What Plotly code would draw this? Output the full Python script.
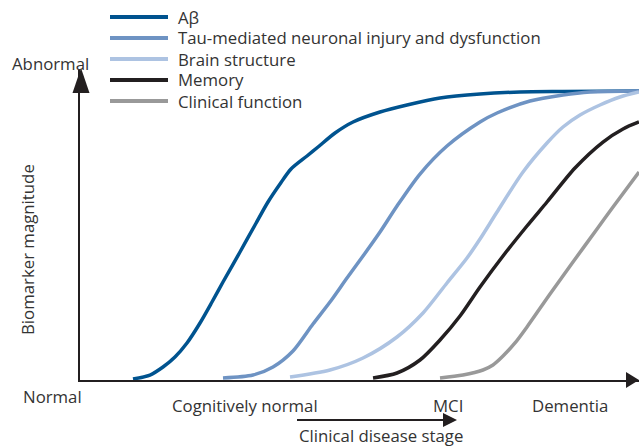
import plotly.graph_objects as go

# ---- data (x: disease progression 0-100, y: biomarker magnitude 0-100) ----
series_names = ["Aβ", "Tau-mediated neuronal injury and dysfunction", "Brain structure",
                "Memory", "Clinical function"]

abeta_x = [9.48, 12.52, 14.85, 16.99, 19.14, 21.47, 23.61, 25.58, 28.62, 31.31, 33.63, 35.78,
           37.75, 40.61, 42.58, 45.62, 48.84, 53.67, 58.50, 64.40, 71.56, 78.71, 86.40, 100]
abeta_y = [0.32, 1.61, 4.19, 7.42, 11.94, 18.39, 25.16, 31.61, 41.29, 50.0, 57.42, 63.23,
           68.06, 72.26, 75.16, 79.68, 83.23, 86.45, 88.71, 90.97, 92.26, 92.90, 93.06, 93.23]

tau_x = [25.58, 30.95, 34.53, 38.10, 41.68, 44.72, 47.76, 50.63, 53.67, 56.71, 60.82, 65.65,
         71.56, 74.60, 80.50, 86.40, 91.23, 100]
tau_y = [0.65, 1.61, 4.19, 9.35, 18.06, 25.16, 32.90, 40.0, 47.74, 56.13, 66.45, 75.48,
         83.23, 86.13, 89.99, 91.94, 92.90, 93.23]

brain_x = [37.57, 44.72, 50.63, 56.71, 61.36, 65.65, 69.23, 71.56, 74.60, 79.25, 83.54, 86.40,
           89.45, 93.02, 96.60, 100]
brain_y = [0.97, 3.23, 7.10, 13.87, 21.61, 31.29, 39.35, 45.48, 54.19, 67.10, 76.45, 81.61,
           85.48, 88.71, 91.29, 92.90]

memory_x = [52.42, 56.71, 60.82, 64.40, 67.98, 71.56, 75.67, 79.96, 83.54, 88.55, 93.56, 97.14, 100]
memory_y = [0.65, 2.26, 6.45, 12.90, 20.65, 30.0, 40.0, 49.68, 57.42, 68.39, 76.77, 80.97, 83.23]

clinical_x = [64.40, 68.52, 72.09, 73.88, 75.67, 77.82, 79.96, 84.08, 88.19, 92.49, 95.35, 100]
clinical_y = [0.65, 1.61, 3.23, 4.84, 7.74, 11.94, 17.10, 27.74, 38.06, 48.71, 55.81, 67.10]

stage_labels = ["Normal", "Cognitively normal", "MCI", "Dementia"]
y_end_label = "Abnormal"
y_title = "Biomarker magnitude"
x_title = "Clinical disease stage"

colors = ["#00538f", "#6e93c3", "#adc3e2", "#231f20", "#999999"]
xs = [abeta_x, tau_x, brain_x, memory_x, clinical_x]
ys = [abeta_y, tau_y, brain_y, memory_y, clinical_y]

W, H = 639, 446
L, R, T, B = 80, 0, 70, 66
PW, PH = W - L - R, H - T - B


def px(xp):
    return (xp - L) / PW


def py(yp):
    return (H - B - yp) / PH


fig = go.Figure()
for name, x, y, c in zip(series_names, xs, ys, colors):
    fig.add_trace(go.Scatter(x=x, y=y, mode="lines", name=name,
                             line=dict(color=c, width=3.5, shape="spline", smoothing=0.8),
                             showlegend=False, hoverinfo="skip"))

FONT = "Open Sans, Liberation Sans, Arial, sans-serif"
FS = 16.8
TXT = "#333333"
AX = "#231f20"

shapes = []
annotations = []

# legend
leg_rows = [17, 38, 59, 80, 101]
for name, c, r in zip(series_names, colors, leg_rows):
    shapes.append(dict(type="line", xref="paper", yref="paper",
                       x0=px(110), x1=px(168), y0=py(r), y1=py(r),
                       line=dict(color=c, width=4)))
    annotations.append(dict(x=px(176), y=py(r), xref="paper", yref="paper", text=name,
                            showarrow=False, xanchor="left", yanchor="middle",
                            font=dict(family=FONT, size=FS, color=TXT)))

# axis arrowheads
shapes.append(dict(type="path", xref="paper", yref="paper",
                   path=f"M {px(639)} {py(380)} L {px(626)} {py(372)} L {px(626)} {py(388)} Z",
                   fillcolor=AX, line=dict(color=AX, width=0)))
shapes.append(dict(type="path", xref="paper", yref="paper",
                   path=f"M {px(81)} {py(68)} L {px(72.5)} {py(93)} L {px(89.5)} {py(93)} Z",
                   fillcolor=AX, line=dict(color=AX, width=0)))

# clinical disease stage arrow
shapes.append(dict(type="line", xref="paper", yref="paper",
                   x0=px(297), x1=px(445), y0=py(420), y1=py(420),
                   line=dict(color=AX, width=2)))
shapes.append(dict(type="path", xref="paper", yref="paper",
                   path=f"M {px(457)} {py(420)} L {px(443)} {py(413)} L {px(443)} {py(427)} Z",
                   fillcolor=AX, line=dict(color=AX, width=0)))

# texts
for t, (x0, y0) in zip(stage_labels, [(52, 396), (245, 405), (448, 405), (570, 405)]):
    annotations.append(dict(x=px(x0), y=py(y0), xref="paper", yref="paper", text=t,
                            showarrow=False, xanchor="center", yanchor="middle",
                            font=dict(family=FONT, size=FS, color=TXT)))
annotations.append(dict(x=px(381), y=py(435), xref="paper", yref="paper", text=x_title,
                        showarrow=False, xanchor="center", yanchor="middle",
                        font=dict(family=FONT, size=FS, color=TXT)))
annotations.append(dict(x=px(50), y=py(63), xref="paper", yref="paper", text=y_end_label,
                        showarrow=False, xanchor="center", yanchor="middle",
                        font=dict(family=FONT, size=FS, color=TXT)))
annotations.append(dict(x=px(28), y=py(250), xref="paper", yref="paper", text=y_title,
                        showarrow=False, xanchor="center", yanchor="middle", textangle=-90,
                        font=dict(family=FONT, size=FS, color=TXT)))

fig.update_layout(
    width=W, height=H,
    margin=dict(l=L, r=R, t=T, b=B),
    paper_bgcolor="white", plot_bgcolor="white",
    xaxis=dict(range=[0, 100], showgrid=False, zeroline=False, showticklabels=False,
               ticks="", showline=True, linecolor=AX, linewidth=2, fixedrange=True),
    yaxis=dict(range=[0, 100], showgrid=False, zeroline=False, showticklabels=False,
               ticks="", showline=True, linecolor=AX, linewidth=2, fixedrange=True),
    shapes=shapes, annotations=annotations, showlegend=False,
)

fig.write_html("out.html", config={"displayModeBar": False},
               post_script="document.body.style.margin='0';document.body.style.overflow='hidden';")
